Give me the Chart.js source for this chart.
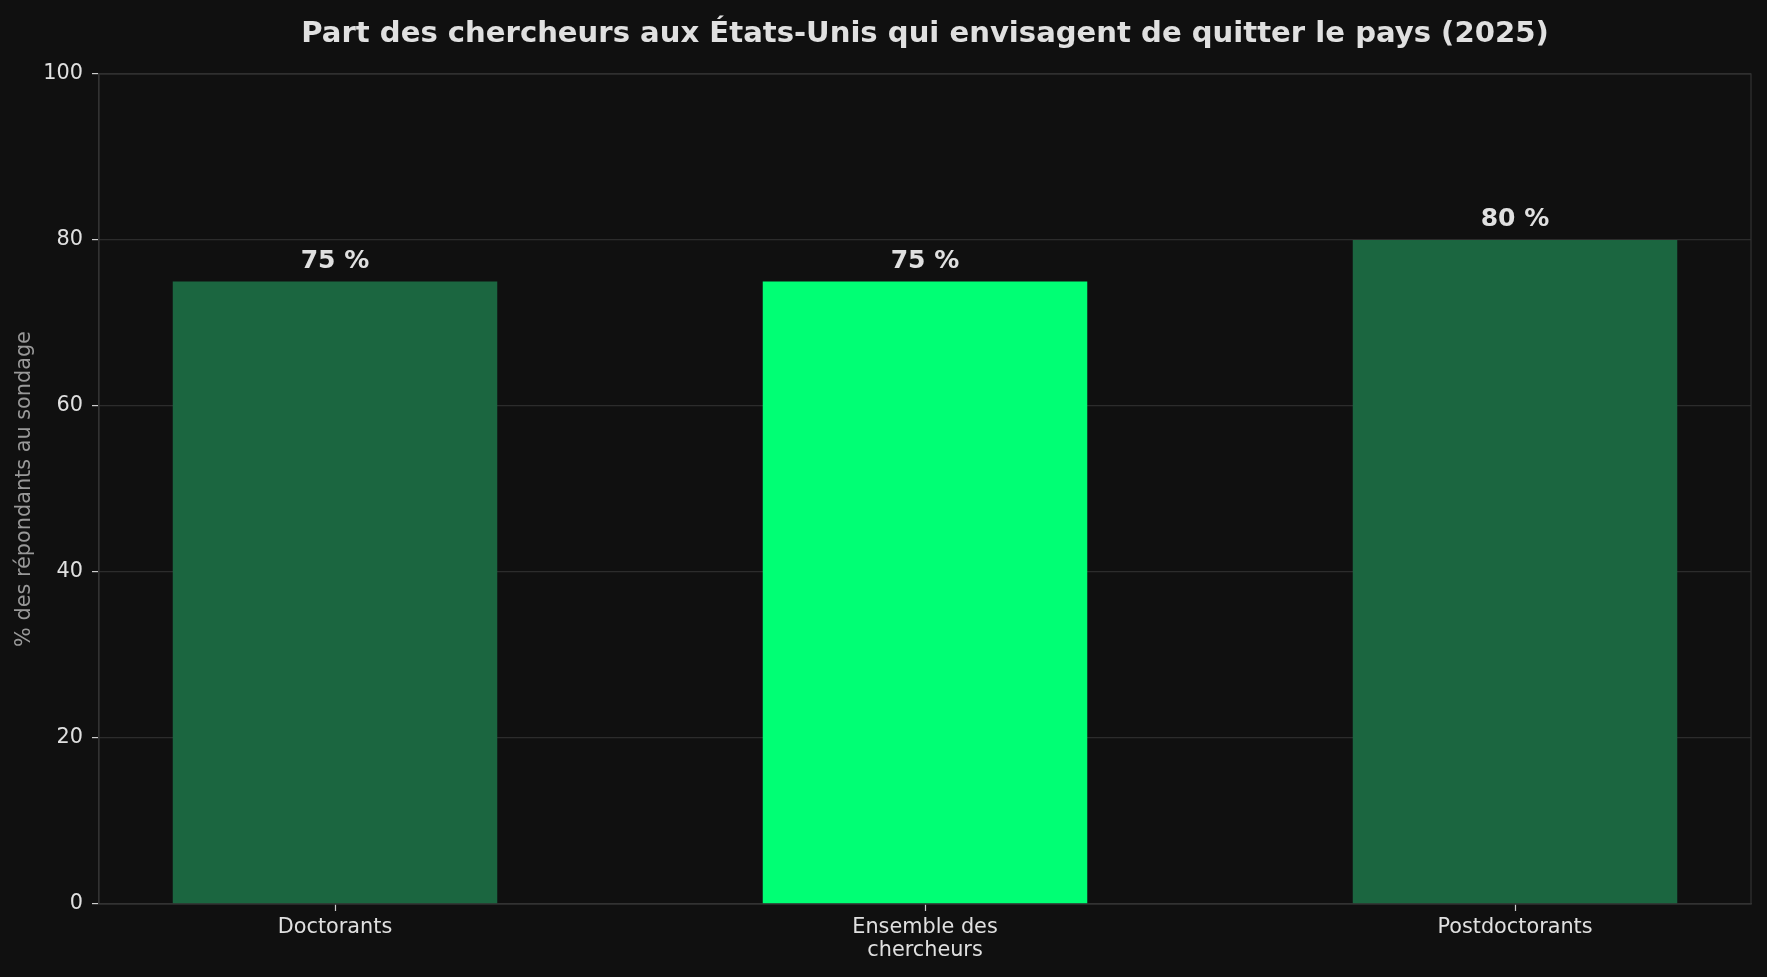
<!DOCTYPE html>
<html>
<head>
<meta charset="utf-8">
<script src="https://cdn.jsdelivr.net/npm/chart.js@4"></script>
<style>
  html, body { margin: 0; padding: 0; background: #101010; }
  canvas { display: block; }
</style>
</head>
<body>
<canvas id="chart" width="1767" height="977"></canvas>
<script>
// Chart data
const categories = [['Doctorants'], ['Ensemble des', 'chercheurs'], ['Postdoctorants']];
const shares = [75, 75, 80];
const barColors = ['#1b6640', '#00ff74', '#1b6640'];
const yTicks = [0, 20, 40, 60, 80, 100];
const chartTitle = 'Part des chercheurs aux États-Unis qui envisagent de quitter le pays (2025)';

const TEXT = '#e0e0e0';
const GRID = '#2c2c2c';
const FONT = "'DejaVu Sans', sans-serif";

// Dark background, frame around the plot area, title centred over the plot
const frame = {
    id: 'frame',
    beforeDraw(chart) {
        const ctx = chart.ctx;
        ctx.save();
        ctx.fillStyle = '#101010';
        ctx.fillRect(0, 0, chart.width, chart.height);
        ctx.restore();
    },
    afterDraw(chart) {
        const a = chart.chartArea;
        const ctx = chart.ctx;
        ctx.save();
        ctx.strokeStyle = '#333333';
        ctx.lineWidth = 1.2;
        ctx.strokeRect(a.left, a.top, a.right - a.left, a.bottom - a.top);

        ctx.fillStyle = TEXT;
        ctx.font = "bold 29.1px " + FONT;
        ctx.textAlign = 'center';
        ctx.textBaseline = 'alphabetic';
        ctx.fillText(chartTitle, (a.left + a.right) / 2, 42);
        ctx.restore();
    }
};

// Value labels above bars
const valueLabels = {
    id: 'valueLabels',
    afterDatasetsDraw(chart) {
        const ctx = chart.ctx;
        const meta = chart.getDatasetMeta(0);
        ctx.save();
        ctx.fillStyle = TEXT;
        ctx.font = "bold 25px " + FONT;
        ctx.textAlign = 'center';
        ctx.textBaseline = 'alphabetic';
        meta.data.forEach((bar, i) => {
            ctx.fillText(shares[i] + ' %', bar.x, bar.y - 14);
        });
        ctx.restore();
    }
};

new Chart(document.getElementById('chart'), {
    type: 'bar',
    data: {
        datasets: [{
            data: shares.map((v, i) => ({ x: i, y: v })),
            backgroundColor: barColors,
            borderWidth: 0,
            categoryPercentage: 1,
            barPercentage: 0.55
        }]
    },
    options: {
        responsive: false,
        animation: false,
        layout: { padding: { left: 0, right: 16, top: 74, bottom: 0 } },
        plugins: {
            legend: { display: false },
            tooltip: { enabled: false },
            title: { display: false }
        },
        scales: {
            x: {
                type: 'linear',
                min: -0.4,
                max: 2.4,
                offset: false,
                afterFit(scale) { scale.height = 73; },
                afterBuildTicks(scale) {
                    scale.ticks = categories.map((c, i) => ({ value: i }));
                },
                ticks: {
                    color: TEXT,
                    font: { family: FONT, size: 20.8, lineHeight: 1.1 },
                    padding: 5,
                    maxRotation: 0,
                    autoSkip: false,
                    callback: (v) => categories[v]
                },
                grid: {
                    offset: false,
                    drawOnChartArea: false,
                    tickLength: 7,
                    tickColor: '#cccccc',
                    tickWidth: 1.2
                },
                border: { color: '#333333', width: 1.2 }
            },
            y: {
                min: 0,
                max: 100,
                afterFit(scale) { scale.width = 99; },
                afterBuildTicks(scale) {
                    scale.ticks = yTicks.map(v => ({ value: v }));
                },
                ticks: {
                    color: TEXT,
                    font: { family: FONT, size: 20.8 },
                    padding: 9
                },
                grid: {
                    color: GRID,
                    lineWidth: 1.2,
                    tickLength: 7,
                    tickColor: '#cccccc',
                    tickWidth: 1.2
                },
                border: { color: '#333333', width: 1.2 },
                title: {
                    display: true,
                    text: '% des répondants au sondage',
                    color: '#999999',
                    font: { family: FONT, size: 20.8, lineHeight: 1.2 },
                    padding: { top: 12, bottom: 0 }
                }
            }
        }
    },
    plugins: [frame, valueLabels]
});
</script>
</body>
</html>
